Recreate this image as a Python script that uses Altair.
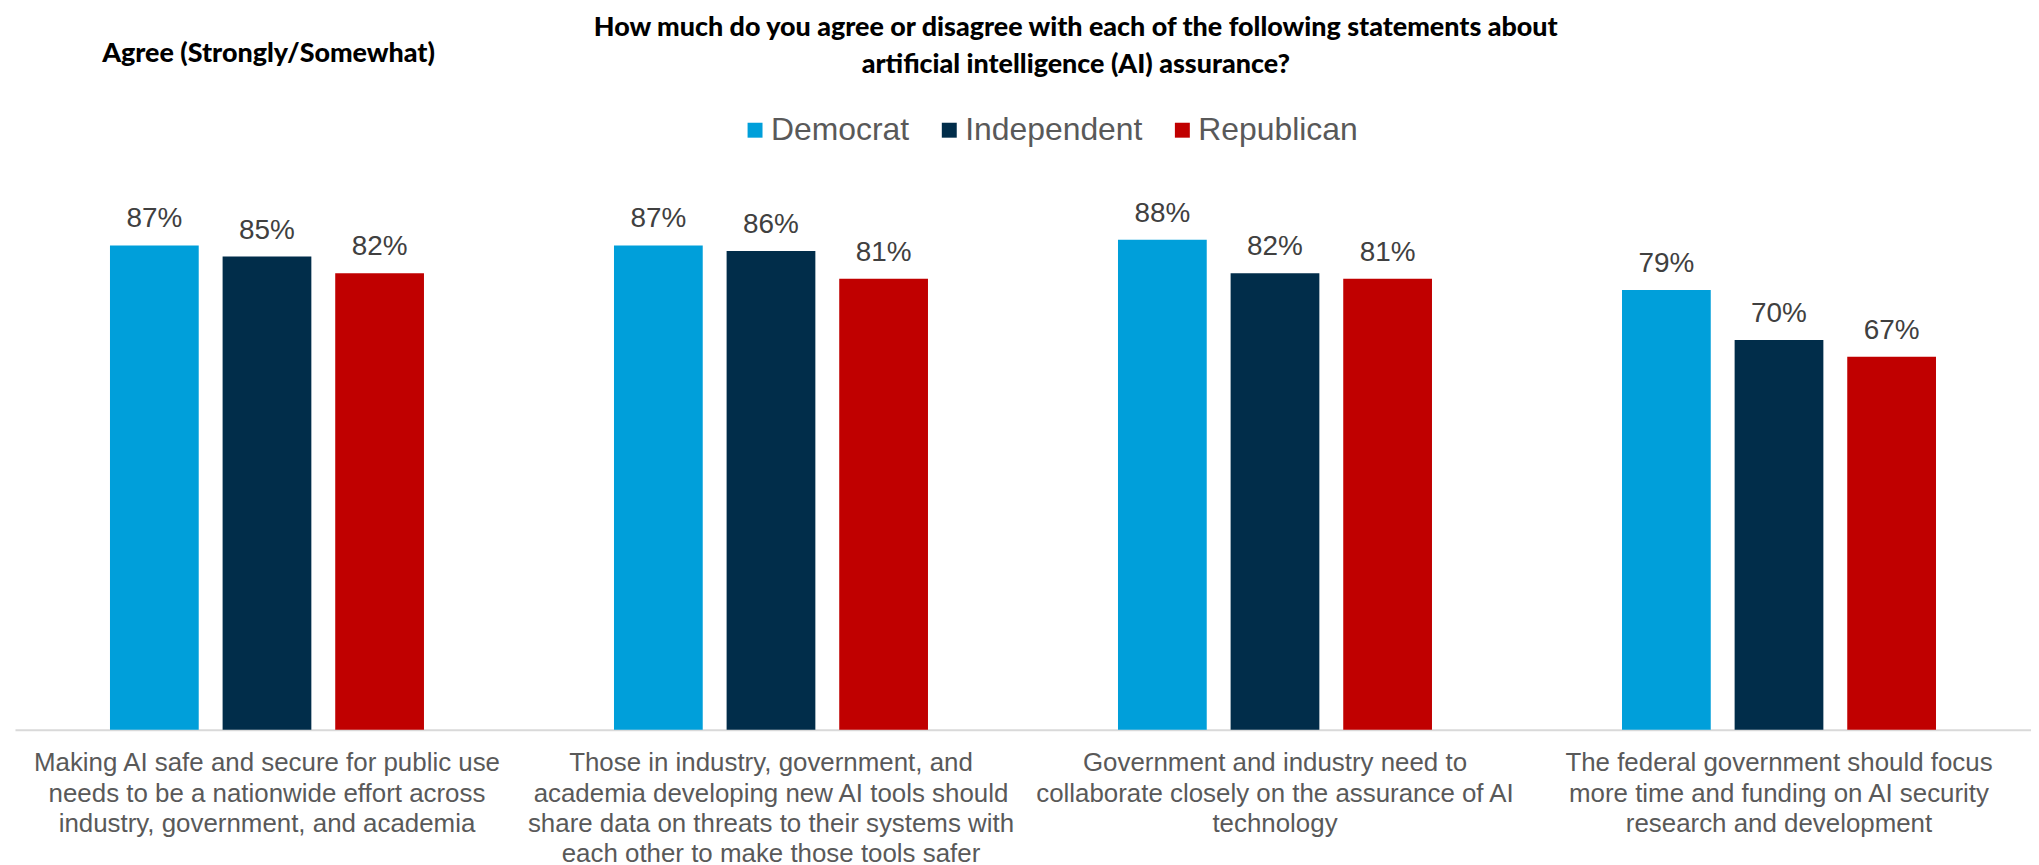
import altair as alt
import pandas as pd

statements = [
    "Making AI safe and secure for public use|needs to be a nationwide effort across|industry, government, and academia",
    "Those in industry, government, and|academia developing new AI tools should|share data on threats to their systems with|each other to make those tools safer",
    "Government and industry need to|collaborate closely on the assurance of AI|technology",
    "The federal government should focus|more time and funding on AI security|research and development",
]
parties = ["Democrat", "Independent", "Republican"]
democrat = [87, 87, 88, 79]
independent = [85, 86, 82, 70]
republican = [82, 81, 81, 67]
colors = ["#009FDA", "#012D4A", "#C00000"]

title_lines = [
    "How much do you agree or disagree with each of the following statements about",
    "artificial intelligence (AI) assurance?",
]
y_title = "Agree (Strongly/Somewhat)"

rows = []
for party, vals in zip(parties, [democrat, independent, republican]):
    for s, v in zip(statements, vals):
        rows.append({"statement": s, "party": party, "value": v})
df = pd.DataFrame(rows)

COND = "Lato, Roboto, sans-serif"
SANS = "Liberation Sans, Arial, Helvetica, sans-serif"

x_enc = alt.X(
    "statement:N",
    sort=statements,
    scale=alt.Scale(paddingInner=0.377, paddingOuter=0.1885),
    axis=alt.Axis(
        title=None,
        labelExpr="split(datum.label, '|')",
        labelAngle=0,
        labelFont=SANS,
        labelFontSize=26,
        labelColor="#595959",
        labelLineHeight=30.5,
        labelBaseline="alphabetic",
        labelPadding=41,
        labelLimit=700,
        ticks=False,
        domainColor="#D9D9D9",
        domainWidth=2,
        grid=False,
    ),
)
xoff = alt.XOffset("party:N", sort=parties, scale=alt.Scale(paddingInner=0.212, paddingOuter=0))
y_enc = alt.Y(
    "value:Q",
    scale=alt.Scale(domain=[0, 100], nice=False),
    axis=alt.Axis(
        title=y_title,
        labels=False,
        ticks=False,
        domain=False,
        grid=False,
        titleAngle=0,
        titleAlign="left",
        titleBaseline="alphabetic",
        titleX=87,
        titleY=-112,
        titleFont=COND,
        titleFontSize=27,
        titleFontWeight=900,
        titleColor="#000000",
    ),
)

bars = alt.Chart(df).mark_bar().encode(
    x=x_enc,
    xOffset=xoff,
    y=y_enc,
    color=alt.Color(
        "party:N",
        sort=parties,
        scale=alt.Scale(domain=parties, range=colors),
        legend=alt.Legend(
            title=None,
            orient="none",
            direction="horizontal",
            legendX=727,
            legendY=-59,
            symbolType="square",
            symbolSize=225,
            symbolStrokeWidth=0,
            labelFont=SANS,
            labelFontSize=32,
            labelColor="#595959",
            labelOffset=0,
            columnPadding=24,
            labelLimit=400,
        ),
    ),
)

labels = alt.Chart(df).transform_calculate(
    lab="datum.value + '%'"
).mark_text(baseline="alphabetic", dy=-18, font=SANS, fontSize=28, color="#404040").encode(
    x=alt.X("statement:N", sort=statements),
    xOffset=alt.XOffset("party:N", sort=parties),
    y=alt.Y("value:Q"),
    text="lab:N",
)

chart = (
    alt.layer(bars, labels)
    .properties(
        width=2024,
        height=559,
        autosize=alt.AutoSizeParams(type="none"),
        padding={"left": 7, "top": 164, "right": 0, "bottom": 134},
        title=alt.TitleParams(
            text=title_lines,
            font=COND,
            fontSize=27,
            fontWeight=900,
            color="#000000",
            anchor="middle",
            frame="group",
            dx=53,
            dy=44,
            lineHeight=38,
        ),
    )
    .configure_view(stroke=None)
    .configure_bar(stroke=None)
)

chart.save("out.html", embed_options={"renderer": "svg", "actions": False})
